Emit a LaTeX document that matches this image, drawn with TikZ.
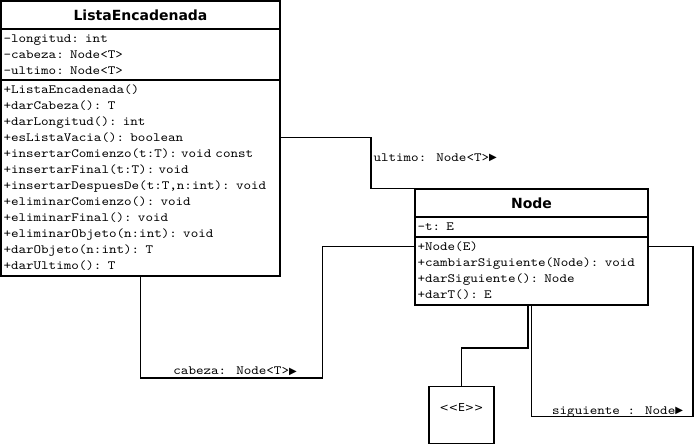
\documentclass[tikz,border=0pt]{standalone}
\usepackage{fontspec}
\usepackage{tikz}
\usetikzlibrary{chains,positioning}

\newfontfamily\membfont{lmmono10-regular.otf}[FakeStretch=1.14]
\newfontfamily\headfont{DejaVu Sans}
\newfontfamily\glyphfont{DejaVu Sans}

\newcommand{\arrowglyph}{\raisebox{0.5pt}{\glyphfont\fontsize{10}{10}\selectfont ▶}}

\begin{document}
\begin{tikzpicture}[x=1pt,y=-1pt,line width=1.5pt]
        \edef\listawidth{279pt}
        \edef\nodewidth{233pt}
        \tikzstyle{umlhead}=[draw,fill=white,minimum height=28pt,inner sep=0pt,
            font=\headfont\bfseries\fontsize{14}{16}\selectfont]
        \tikzstyle{umlpart}=[draw,fill=white,align=left,inner xsep=2.5pt,inner ysep=2pt,
            font=\membfont\fontsize{12.6}{16}\selectfont]
        \tikzstyle{rolelabel}=[inner sep=0pt,font=\membfont\fontsize{12.6}{16}\selectfont]
        \tikzstyle{assoc}=[draw]
        \tikzstyle{parambox}=[draw,minimum width=65pt,minimum height=57pt,
            text height=8pt,text depth=14.4pt,font=\glyphfont\fontsize{11}{12}\selectfont]

        \useasboundingbox (0,0) rectangle (695,445);

        %% ListaEncadenada class
        \begin{scope}[shift={(140.5,15)},start chain=1 going below,node distance=-1.5pt]
            \node [on chain=1,umlhead,minimum width=\listawidth] (listaT) {ListaEncadenada};
            \node [on chain=1,umlpart,text width=274pt,minimum height=51pt] (listaA)
                {-longitud: int\\-cabeza: Node<T>\\-ultimo: Node<T>};
            \node [on chain=1,umlpart,text width=274pt,minimum height=196pt] (listaM)
                {+ListaEncadenada()\\
                 +darCabeza(): T\\
                 +darLongitud(): int\\
                 +esListaVacia(): boolean\\
                 +insertarComienzo(t:T): void const\\
                 +insertarFinal(t:T): void\\
                 +insertarDespuesDe(t:T,n:int): void\\
                 +eliminarComienzo(): void\\
                 +eliminarFinal(): void\\
                 +eliminarObjeto(n:int): void\\
                 +darObjeto(n:int): T\\
                 +darUltimo(): T};
        \end{scope}

        %% Node class
        \begin{scope}[shift={(531.5,203)},start chain=2 going below,node distance=-1.5pt]
            \node [on chain=2,umlhead,minimum width=\nodewidth] (nodeT) {Node};
            \node [on chain=2,umlpart,text width=228pt,minimum height=20pt] (nodeA) {-t: E};
            \node [on chain=2,umlpart,text width=228pt,minimum height=68pt] (nodeM)
                {+Node(E)\\
                 +cambiarSiguiente(Node): void\\
                 +darSiguiente(): Node\\
                 +darT(): E};
        \end{scope}

        %% type parameter
        \node [parambox] (tparam) at (461.5,415) {<{}<E>{}>};

        %% associations
        \draw [assoc] ([yshift=-58pt]listaM.north east) -- ++(90,0) coordinate (ultimoBend)
            |- (nodeT.north west);
        \node [rolelabel,anchor=base west] (ultimoLbl) at ([xshift=2pt,yshift=-24pt]ultimoBend)
            {ultimo: Node<T>\arrowglyph};

        \draw [assoc] (listaM.south) -- ++(0,101) -- ++(182,0) coordinate (cabezaBend)
            |- ([yshift=-10pt]nodeM.north west);
        \node [rolelabel,anchor=base east] (cabezaLbl) at ([xshift=-25pt,yshift=3pt]cabezaBend)
            {cabeza: Node<T>\arrowglyph};

        \draw [assoc] ([yshift=-10pt]nodeM.north east) -- ++(44,0) -- ++(0,170)
            coordinate (siguienteBend) -| (nodeM.south);
        \node [rolelabel,anchor=base east] (siguienteLbl) at ([xshift=-9pt,yshift=2pt]siguienteBend)
            {siguiente : Node\arrowglyph};

        \draw [assoc] ([xshift=-3.5pt]nodeM.south) -- ++(0,42) -| (tparam.north);
\end{tikzpicture}
\end{document}
